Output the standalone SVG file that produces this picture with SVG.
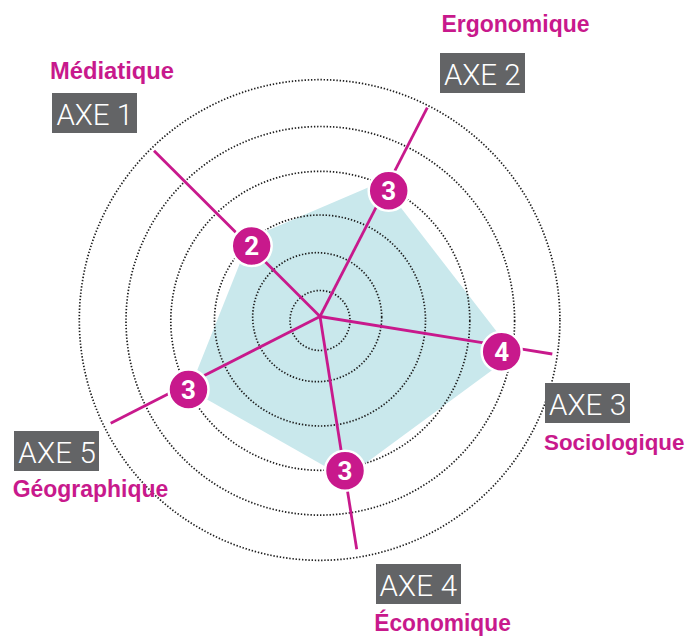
<svg xmlns="http://www.w3.org/2000/svg" width="691" height="637" viewBox="0 0 691 637">
<style>
.ring{fill:none;stroke:#1e1e1e;stroke-width:1.7;stroke-dasharray:1.4 1.8}
.axis{stroke:#c8198c;stroke-width:2.8;fill:none;stroke-linecap:butt}
.box{fill:#636466}
.axe{font-family:Roboto,"Liberation Sans","DejaVu Sans",sans-serif;font-weight:300;font-size:29.5px;fill:#ffffff}
.cat{font-family:"Liberation Sans",Arial,sans-serif;font-weight:bold;font-size:24.5px;fill:#c8198c}
.mk{fill:#c8198c;stroke:#ffffff;stroke-width:2.5}
.num{font-family:Roboto,"Liberation Sans",sans-serif;font-weight:bold;font-size:26px;fill:#ffffff;text-anchor:middle}
</style>
<rect width="691" height="637" fill="#ffffff"/>
<g id="area">
<polygon points="250,238 381,182 514,354 345.5,478 189.5,389.5" fill="#c9e8ec"/>
</g>
<g id="grid">
<circle class="ring" cx="320" cy="320.5" r="30"/>
<circle class="ring" cx="317.2" cy="317.2" r="64.5"/>
<circle class="ring" cx="320" cy="320.5" r="105.5"/>
<circle class="ring" cx="320.3" cy="320.8" r="149.5"/>
<circle class="ring" cx="320.3" cy="320.8" r="194.3"/>
<circle class="ring" cx="319.6" cy="320" r="240.3"/>
</g>
<g id="connectors">
<line class="axis" x1="320" y1="316.5" x2="154" y2="150.7"/>
<line class="axis" x1="320" y1="316.5" x2="427.3" y2="107.7"/>
<line class="axis" x1="320" y1="316.5" x2="552.3" y2="354"/>
<line class="axis" x1="320" y1="316.5" x2="356.7" y2="549.3"/>
<line class="axis" x1="320" y1="316.5" x2="110.7" y2="423.3"/>
</g>
<g id="axe1">
<text class="cat" x="50" y="79" textLength="124" lengthAdjust="spacingAndGlyphs">Médiatique</text>
<rect class="box" x="52" y="93" width="85" height="40"/>
<text class="axe" x="56.5" y="124.5" textLength="76.5" lengthAdjust="spacing">AXE 1</text>
<circle class="mk" cx="251.7" cy="246" r="20"/>
<text class="num" x="251.7" y="255.3">2</text>
</g>
<g id="axe2">
<text class="cat" x="441.5" y="32.3" textLength="148" lengthAdjust="spacingAndGlyphs">Ergonomique</text>
<rect class="box" x="440" y="53" width="85" height="40"/>
<text class="axe" x="444" y="84.5" textLength="76.5" lengthAdjust="spacing">AXE 2</text>
<circle class="mk" cx="388.7" cy="190.8" r="20"/>
<text class="num" x="388.7" y="200.1">3</text>
</g>
<g id="axe3">
<rect class="box" x="545" y="383" width="85" height="40"/>
<text class="axe" x="549" y="414.5" textLength="77" lengthAdjust="spacing">AXE 3</text>
<text class="cat" x="544" y="450" style="font-size:22.5px" textLength="140.5" lengthAdjust="spacingAndGlyphs">Sociologique</text>
<circle class="mk" cx="501.7" cy="351.7" r="20"/>
<text class="num" x="501.7" y="361">4</text>
</g>
<g id="axe4">
<rect class="box" x="376" y="564" width="85" height="40"/>
<text class="axe" x="379.5" y="595.5" textLength="77.5" lengthAdjust="spacing">AXE 4</text>
<text class="cat" x="374.3" y="631" textLength="136.5" lengthAdjust="spacingAndGlyphs">Économique</text>
<circle class="mk" cx="345" cy="470.7" r="20"/>
<text class="num" x="345" y="480">3</text>
</g>
<g id="axe5">
<rect class="box" x="14" y="431" width="85" height="40"/>
<text class="axe" x="18.3" y="462.5" textLength="77.5" lengthAdjust="spacing">AXE 5</text>
<text class="cat" x="12.7" y="497" textLength="155.5" lengthAdjust="spacingAndGlyphs">Géographique</text>
<circle class="mk" cx="188.5" cy="389.4" r="20"/>
<text class="num" x="188.5" y="398.7">3</text>
</g>
</svg>
